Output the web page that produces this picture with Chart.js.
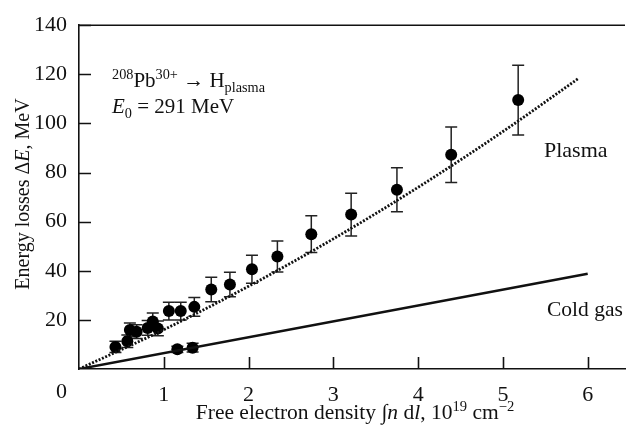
<!DOCTYPE html>
<html>
<head>
<meta charset="utf-8">
<script src="https://cdn.jsdelivr.net/npm/chart.js@4.4.1/dist/chart.umd.min.js"></script>
<style>
  html, body { margin: 0; padding: 0; background: #fff; }
  #wrap { width: 631px; height: 437px; }
</style>
</head>
<body>
<div id="wrap"><canvas id="chart" width="631" height="437"></canvas></div>
<script>
// measured energy losses in plasma
const plasmaX = [0.43, 0.57, 0.60, 0.68, 0.81, 0.87, 0.93, 1.06, 1.20, 1.36, 1.56, 1.78, 2.04, 2.34, 2.74, 3.21, 3.75, 4.39, 5.18];
const plasmaY = [9.0, 11.3, 15.9, 15.2, 16.7, 19.3, 16.5, 23.6, 23.6, 25.3, 32.4, 34.4, 40.6, 45.8, 54.9, 62.9, 73.0, 87.2, 109.5];
const plasmaErr = [2.3, 2.5, 2.8, 2.8, 3.0, 3.5, 3.0, 3.6, 3.6, 3.8, 5.0, 5.0, 5.7, 6.3, 7.5, 8.7, 9.0, 11.3, 14.2];

// measured energy losses in cold gas
const coldX = [1.16, 1.34];
const coldY = [8.0, 8.7];
const coldErr = [1.3, 1.8];

// calculated curves
const plasmaCurveX = [0, 1, 2, 3, 4, 5, 5.89];
const plasmaCurveY = [0, 16.0, 33.7, 53.0, 74.0, 96.7, 118.3];
const coldCurveX = [0, 6.0];
const coldCurveY = [0, 38.8];

// axis ticks
const xTicks = [1, 2, 3, 4, 5, 6];
const yTicks = [20, 40, 60, 80, 100, 120, 140];

const FONT = "'Liberation Serif', 'Times New Roman', serif";
const INK = "#111";

function toPoints(xs, ys) {
  return xs.map(function (x, i) { return { x: x, y: ys[i] }; });
}

// draw a run of text pieces (italic, super/subscript) starting at x
function drawRich(ctx, segs, x, y, size, align) {
  function fontOf(s) {
    let sz = s.sh ? size * 0.68 : size;
    return (s.it ? "italic " : "") + sz + "px " + FONT;
  }
  let total = 0;
  segs.forEach(function (s) { ctx.font = fontOf(s); total += ctx.measureText(s.t).width; });
  let cx = align === "center" ? x - total / 2 : x;
  ctx.textAlign = "left";
  ctx.textBaseline = "alphabetic";
  segs.forEach(function (s) {
    ctx.font = fontOf(s);
    let dy = s.sh === "sup" ? -size * 0.38 : s.sh === "sub" ? size * 0.22 : 0;
    ctx.fillText(s.t, cx, y + dy);
    cx += ctx.measureText(s.t).width;
  });
}

const errorBars = {
  id: "errorBars",
  beforeDatasetsDraw(chart) {
    const ctx = chart.ctx, xs = chart.scales.x, ys = chart.scales.y;
    ctx.save();
    ctx.strokeStyle = "#222";
    ctx.lineWidth = 1.5;
    function bars(xv, yv, ev) {
      xv.forEach(function (x, i) {
        let px = xs.getPixelForValue(x);
        let top = ys.getPixelForValue(yv[i] + ev[i]);
        let bot = ys.getPixelForValue(yv[i] - ev[i]);
        ctx.beginPath();
        ctx.moveTo(px, top); ctx.lineTo(px, bot);
        ctx.moveTo(px - 6, top); ctx.lineTo(px + 6, top);
        ctx.moveTo(px - 6, bot); ctx.lineTo(px + 6, bot);
        ctx.stroke();
      });
    }
    bars(plasmaX, plasmaY, plasmaErr);
    bars(coldX, coldY, coldErr);
    ctx.restore();
  }
};

const frame = {
  id: "frame",
  afterDraw(chart) {
    const ctx = chart.ctx, xs = chart.scales.x, ys = chart.scales.y, a = chart.chartArea;
    ctx.save();
    ctx.strokeStyle = INK;
    ctx.lineWidth = 1.6;
    // top edge
    ctx.beginPath();
    ctx.moveTo(a.left, a.top); ctx.lineTo(a.right, a.top);
    ctx.stroke();
    // inward ticks
    ctx.beginPath();
    xTicks.forEach(function (v) {
      let px = Math.round(xs.getPixelForValue(v)) + 0.5;
      ctx.moveTo(px, a.bottom); ctx.lineTo(px, a.bottom - 12);
    });
    yTicks.forEach(function (v) {
      let py = Math.round(ys.getPixelForValue(v)) + 0.5;
      ctx.moveTo(a.left, py); ctx.lineTo(a.left + 12, py);
    });
    ctx.stroke();

    ctx.fillStyle = INK;
    // shared origin label
    ctx.font = "22px " + FONT;
    ctx.textAlign = "right";
    ctx.textBaseline = "middle";
    ctx.fillText("0", a.left - 12, 392);

    // axis titles
    drawRich(ctx, [
      { t: "Free electron density \u222B" },
      { t: "n", it: true },
      { t: " d" },
      { t: "l", it: true },
      { t: ", 10" },
      { t: "19", sh: "sup" },
      { t: " cm" },
      { t: "\u22122", sh: "sup" }
    ], 355, 419, 21.5, "center");

    ctx.save();
    ctx.translate(29, 194);
    ctx.rotate(-Math.PI / 2);
    drawRich(ctx, [
      { t: "Energy losses \u0394" },
      { t: "E", it: true },
      { t: ", MeV" }
    ], 0, 0, 20, "center");
    ctx.restore();

    // reaction and beam energy
    drawRich(ctx, [
      { t: "208", sh: "sup" },
      { t: "Pb" },
      { t: "30+", sh: "sup" },
      { t: " \u2192 H" },
      { t: "plasma", sh: "sub" }
    ], 112, 87, 21);
    drawRich(ctx, [
      { t: "E", it: true },
      { t: "0", sh: "sub" },
      { t: " = 291 MeV" }
    ], 112, 113, 21);

    // curve labels
    drawRich(ctx, [{ t: "Plasma" }], 544, 157, 22);
    drawRich(ctx, [{ t: "Cold gas" }], 547, 316, 21.5);
    ctx.restore();
  }
};

const ctx = document.getElementById("chart").getContext("2d");

new Chart(ctx, {
  type: "scatter",
  data: {
    datasets: [
      {
        data: toPoints(plasmaCurveX, plasmaCurveY),
        showLine: true,
        borderColor: INK,
        borderWidth: 2.8,
        borderDash: [2, 1.6],
        cubicInterpolationMode: "monotone",
        pointRadius: 0
      },
      {
        data: toPoints(coldCurveX, coldCurveY),
        showLine: true,
        borderColor: INK,
        borderWidth: 2.5,
        pointRadius: 0
      },
      {
        data: toPoints(plasmaX, plasmaY),
        pointRadius: 6,
        pointBackgroundColor: "#000",
        pointBorderWidth: 0
      },
      {
        data: toPoints(coldX, coldY),
        pointRadius: 6,
        pointBackgroundColor: "#000",
        pointBorderWidth: 0
      }
    ]
  },
  options: {
    responsive: false,
    animation: false,
    devicePixelRatio: 1,
    layout: { padding: { top: 17, right: 0, left: 0, bottom: 0 } },
    plugins: {
      legend: { display: false },
      tooltip: { enabled: false }
    },
    scales: {
      x: {
        type: "linear",
        min: 0,
        max: 6.44,
        afterBuildTicks: function (scale) {
          scale.ticks = xTicks.map(function (v) { return { value: v }; });
        },
        afterFit: function (scale) { scale.height = 68; },
        grid: { display: false, drawTicks: false },
        border: { display: true, color: INK, width: 1.6 },
        ticks: { color: INK, padding: 13, maxRotation: 0, font: { family: FONT, size: 22 } }
      },
      y: {
        type: "linear",
        min: 0,
        max: 140,
        afterBuildTicks: function (scale) {
          scale.ticks = yTicks.map(function (v) { return { value: v }; });
        },
        afterFit: function (scale) { scale.width = 79; },
        grid: { display: false, drawTicks: false },
        border: { display: true, color: INK, width: 1.6 },
        ticks: { color: INK, padding: 12, font: { family: FONT, size: 22 } }
      }
    }
  },
  plugins: [errorBars, frame]
});
</script>
</body>
</html>
